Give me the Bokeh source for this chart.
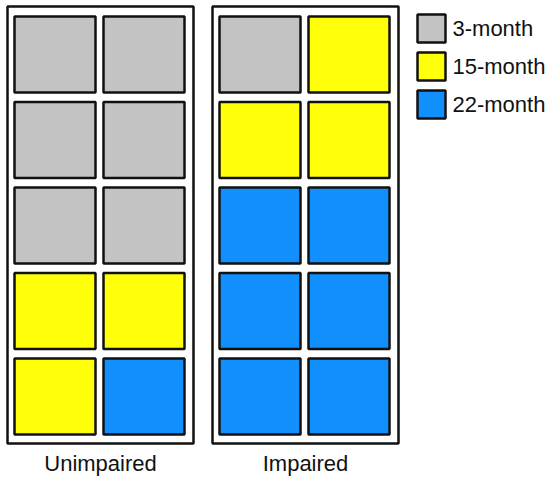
from bokeh.plotting import figure
from bokeh.models import Range1d, ColumnDataSource
from bokeh.core.properties import value
from bokeh.embed import file_html
from bokeh.resources import INLINE

# Waffle data: 10 animals per group, counted by age class
groups = ["Unimpaired", "Impaired"]
periods = ["3-month", "15-month", "22-month"]
counts_unimpaired = [6, 3, 1]
counts_impaired = [1, 3, 6]
period_colors = ["#c3c3c3", "#ffff0a", "#118ffc"]

W, H = 550, 480
p = figure(width=W, height=H, x_range=Range1d(0, W), y_range=Range1d(H, 0),
           output_backend="svg", toolbar_location=None,
           x_axis_location=None, y_axis_location=None, min_border=0)
p.xgrid.visible = False
p.ygrid.visible = False
p.outline_line_color = None
p.background_fill_color = "white"
p.border_fill_color = "white"

# Layout of the two waffle panels
panel_left = [7, 212]
panel_w, panel_top, panel_bottom = 186, 6, 443
n_cols, n_rows = 2, 5
cell_off_x = [7, 96]
cell_w, cell_h = 81, 76
row_top0, row_pitch = 16, 85.5

cells = dict(left=[], right=[], top=[], bottom=[], color=[])
for gi, counts in enumerate([counts_unimpaired, counts_impaired]):
    seq = []
    for ci, c in enumerate(counts):
        seq += [period_colors[ci]] * c
    for k, col in enumerate(seq):
        r, c = divmod(k, n_cols)
        x0 = panel_left[gi] + cell_off_x[c]
        y0 = row_top0 + r * row_pitch
        cells["left"].append(x0)
        cells["right"].append(x0 + cell_w)
        cells["top"].append(y0)
        cells["bottom"].append(y0 + cell_h)
        cells["color"].append(col)

# Panel frames
p.quad(left=panel_left, right=[x + panel_w for x in panel_left],
       top=[panel_top] * 2, bottom=[panel_bottom] * 2,
       fill_color=None, line_color="#111111", line_width=2.5)

# Waffle cells
p.quad(left="left", right="right", top="top", bottom="bottom",
       fill_color="color", line_color="#111111", line_width=2.5,
       source=ColumnDataSource(cells))

# Group labels under each panel
p.text(x=[x + panel_w / 2 for x in panel_left], y=[463, 463], text=groups,
       text_align="center", text_baseline="middle",
       text_font=value("Liberation Sans"), text_font_size="22px",
       text_color="#111111")

# Legend
leg_x, leg_size = 417, 28
leg_y = [14, 52, 90]
p.quad(left=[leg_x] * 3, right=[leg_x + leg_size] * 3,
       top=leg_y, bottom=[y + leg_size for y in leg_y],
       fill_color=period_colors, line_color="#111111", line_width=2.5)
p.text(x=[452] * 3, y=[y + leg_size / 2 for y in leg_y], text=periods,
       text_align="left", text_baseline="middle",
       text_font=value("Liberation Sans"), text_font_size="22px",
       text_color="#111111")

open("out.html", "w").write(file_html(p, INLINE))
